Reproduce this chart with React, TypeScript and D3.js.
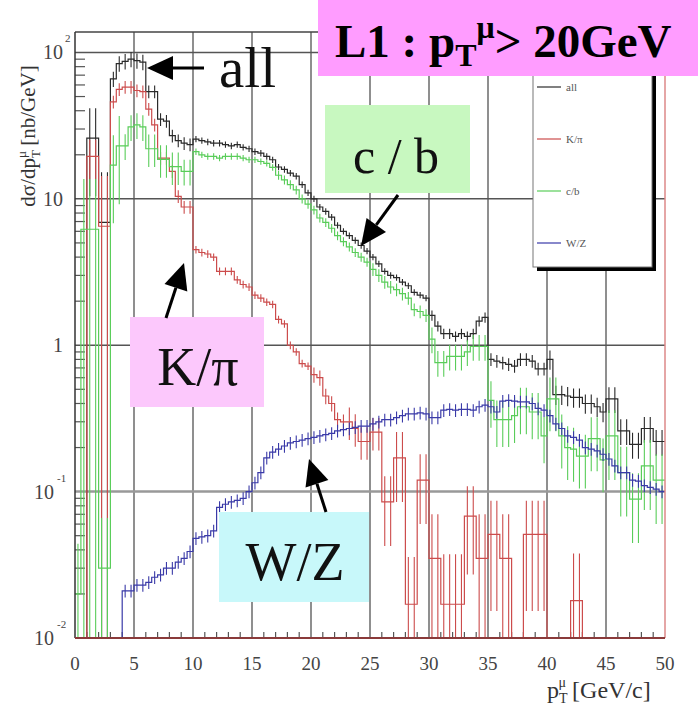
import React from "react";
import * as d3 from "d3";

// muon pT spectra, 0.5 GeV/c bins from 0 to 50 GeV/c
const BIN_WIDTH = 0.5;

const allValues = [
  0, 0, 26, 26, 6.9, 6.9, 66, 84, 87, 90,
  88, 86, 54, 54, 35, 34, 27, 25, 24, 23.5,
  25.6, 25, 24.5, 24, 24, 23.5, 23, 23.5, 22.5, 22,
  21, 20.5, 19.5, 18.5, 16.5, 15.9, 15, 14.3, 12.5, 11,
  10, 8.8, 8.2, 7.5, 6.6, 6.0, 5.6, 5.2, 4.8, 4.4,
  4.0, 3.6, 3.2, 3.0, 2.9, 2.7, 2.55, 2.3, 2.2, 2.1,
  1.6, 1.35, 1.2, 1.2, 1.15, 1.2, 1.15, 1.2, 1.46, 1.55,
  0.8, 0.78, 0.76, 0.74, 0.72, 0.8, 0.8, 0.78, 0.69, 0.69,
  0.8, 0.46, 0.46, 0.45, 0.44, 0.44, 0.4, 0.4, 0.38, 0.35,
  0.43, 0.43, 0.26, 0.26, 0.21, 0.21, 0.27, 0.27, 0.22, 0.22,
];

const kpiValues = [
  0, 0, 19.5, 19.5, 6.5, 6.5, 46, 56, 58, 58,
  55, 54, 41, 32, 19, 19, 15.4, 10.4, 8.8, 8.8,
  4.5, 4.3, 4.2, 4.0, 3.2, 3.2, 3.2, 2.8, 2.6, 2.5,
  2.2, 2.1, 1.97, 1.9, 1.5, 1.4, 1.0, 0.9, 0.75, 0.72,
  0.63, 0.6, 0.45, 0.4, 0.31, 0.3, 0.3, 0.27, 0.22, 0.22,
  0.255, 0.255, 0.085, 0.085, 0.17, 0.17, 0.017, 0.017, 0.12, 0.12,
  0.035, 0.035, 0.017, 0.017, 0.017, 0.017, 0.068, 0.068, 0.035, 0.035,
  0.051, 0.051, 0.035, 0.035, 0, 0, 0.051, 0.051, 0.051, 0.051,
  0, 0, 0, 0, 0.018, 0.018, 0, 0, 0, 0,
  0, 0, 0, 0, 0, 0, 0, 0, 0, 0,
];

const cbValues = [
  0.02, 6.2, 6.2, 6.2, 0.03, 0.03, 17, 23, 23, 31,
  32, 31, 22, 22, 18.6, 18.6, 16.6, 16.6, 15.4, 15.4,
  21, 20, 19.5, 19.5, 19, 19.5, 19.5, 19.5, 19, 18.5,
  18.5, 18, 17.5, 16.4, 14.5, 13.5, 12.5, 11.5, 10, 9.2,
  8.4, 7.4, 6.9, 6.3, 5.6, 5.1, 4.7, 4.3, 4.0, 3.7,
  3.3, 3.0, 2.7, 2.5, 2.4, 2.25, 2.1, 1.75, 1.7, 1.6,
  1.1, 0.76, 0.76, 0.84, 0.84, 0.84, 0.9, 0.98, 0.98, 0.98,
  0.42, 0.31, 0.31, 0.31, 0.33, 0.38, 0.38, 0.35, 0.35, 0.24,
  0.43, 0.43, 0.24, 0.2, 0.195, 0.175, 0.175, 0.23, 0.23, 0.165,
  0.24, 0.24, 0.135, 0.135, 0.089, 0.089, 0.15, 0.15, 0.12, 0.12,
];

const wzValues = [
  0, 0, 0, 0, 0, 0, 0, 0, 0.021, 0.021,
  0.023, 0.023, 0.024, 0.026, 0.027, 0.03, 0.03, 0.033, 0.035, 0.039,
  0.048, 0.049, 0.05, 0.054, 0.078, 0.082, 0.085, 0.087, 0.09, 0.1,
  0.115, 0.135, 0.17, 0.186, 0.195, 0.205, 0.215, 0.22, 0.225, 0.23,
  0.235, 0.24, 0.245, 0.25, 0.26, 0.265, 0.27, 0.275, 0.28, 0.28,
  0.29, 0.3, 0.31, 0.31, 0.32, 0.33, 0.34, 0.34, 0.345, 0.34,
  0.32, 0.32, 0.36, 0.365, 0.36, 0.365, 0.365, 0.36, 0.38, 0.39,
  0.38, 0.35, 0.415, 0.42, 0.415, 0.41, 0.41, 0.4, 0.37, 0.36,
  0.33, 0.29, 0.27, 0.24, 0.235, 0.225, 0.2, 0.195, 0.19, 0.18,
  0.167, 0.15, 0.135, 0.135, 0.12, 0.118, 0.11, 0.107, 0.104, 0.1,
];

// relative error bar size, [first bin, fraction]
const allErr: [number, number][] = [[0, 0.1], [2, 0.6], [4, 1.2], [6, 0.12], [12, 0.1], [20, 0.05], [60, 0.08], [70, 0.1], [80, 0.15], [90, 0.2]];
const kpiErr: [number, number][] = [[0, 0.1], [2, 0.3], [4, 1.2], [6, 0.1], [20, 0.06], [40, 0.12], [46, 0.25], [52, 0.5], [56, 1.1], [58, 0.5], [60, 1.0], [62, 1.2], [66, 0.6], [68, 1.0], [70, 0.7], [72, 1.0], [76, 0.7], [84, 1.1]];
const cbErr: [number, number][] = [[0, 1.2], [6, 0.6], [8, 0.2], [12, 0.25], [18, 0.2], [20, 0.05], [34, 0.07], [50, 0.1], [60, 0.2], [70, 0.35], [80, 0.4], [90, 0.5]];
const wzErr: [number, number][] = [[0, 0.1]];

const xTicks = [0, 5, 10, 15, 20, 25, 30, 35, 40, 45, 50];
const yDecades = [0.01, 0.1, 1, 10, 100];
const yTickLabels = [
  { v: 100, base: "10", exp: "2" },
  { v: 10, base: "10", exp: "" },
  { v: 1, base: "1", exp: "" },
  { v: 0.1, base: "10", exp: "-1" },
  { v: 0.01, base: "10", exp: "-2" },
];
const legendLabels = ["all", "K/\u03c0", "c/b", "W/Z"];

const W = 698;
const H = 710;
const serif = "Liberation Serif";

const series = [
  { name: "all", values: allValues, err: allErr, color: "#2a2a2a" },
  { name: "kpi", values: kpiValues, err: kpiErr, color: "#cc4c4c" },
  { name: "cb", values: cbValues, err: cbErr, color: "#5acd5a" },
  { name: "wz", values: wzValues, err: wzErr, color: "#3a3aa8" },
];

const x = d3.scaleLinear().domain([0, 50]).range([75, 665]);
const y = d3.scaleLog().domain([0.01, 138]).range([638, 32]);
const yBottom = 638;
const yTop = 32;
const yv = (v: number) => (v <= 0.01 ? yBottom : Math.max(yTop, y(v)));

function histPath(vals: number[]) {
  const pts: [number, number][] = [];
  vals.forEach((v, i) => {
    pts.push([i * BIN_WIDTH, v]);
    pts.push([(i + 1) * BIN_WIDTH, v]);
  });
  return d3
    .line<[number, number]>()
    .x((d) => x(d[0]))
    .y((d) => yv(d[1]))(pts)!;
}

function relErr(segs: [number, number][], i: number) {
  let r = segs[0][1];
  for (const s of segs) if (s[0] <= i) r = s[1];
  return r;
}

function Arrow({ x1, y1, x2, y2 }: { x1: number; y1: number; x2: number; y2: number }) {
  const ang = Math.atan2(y2 - y1, x2 - x1);
  const len = 26;
  const hw = 12;
  const bx = x2 - len * Math.cos(ang);
  const by = y2 - len * Math.sin(ang);
  const px = -Math.sin(ang) * hw;
  const py = Math.cos(ang) * hw;
  return (
    <g>
      <line x1={x1} y1={y1} x2={bx} y2={by} stroke="#000" strokeWidth={3} />
      <polygon points={`${x2},${y2} ${bx + px},${by + py} ${bx - px},${by - py}`} fill="#000" />
    </g>
  );
}

export default function App() {
  const minorY: number[] = [];
  yDecades.forEach((d) => {
    for (let k = 2; k <= 9; k++) if (d * k < 138) minorY.push(d * k);
  });
  const minorX = d3.range(1, 50).filter((v) => v % 5 !== 0);

  return (
    <svg width={W} height={H} style={{ position: "absolute", left: 0, top: 0, background: "#fff", fontFamily: serif }}>
      <rect x={0} y={0} width={W} height={H} fill="#fff" />

      {/* grid */}
      {xTicks.slice(1, -1).map((t) => (
        <line key={"gx" + t} x1={x(t)} x2={x(t)} y1={yTop} y2={yBottom} stroke="#6a6a6a" strokeWidth={1.5} />
      ))}
      {yDecades.slice(1).map((t) => (
        <line key={"gy" + t} x1={x(0)} x2={x(50)} y1={y(t)} y2={y(t)} stroke={t === 0.1 ? "#999" : "#555"} strokeWidth={t === 0.1 ? 2.5 : 1.5} />
      ))}

      {/* ticks */}
      {minorY.map((v) => (
        <line key={"my" + v} x1={x(0)} x2={x(0) + 10} y1={y(v)} y2={y(v)} stroke="#555" strokeWidth={1.2} />
      ))}
      {minorX.map((v) => (
        <line key={"mx" + v} x1={x(v)} x2={x(v)} y1={yBottom} y2={yBottom - 6} stroke="#555" strokeWidth={1.2} />
      ))}

      {/* histograms */}
      {series.map((s) => (
        <g key={s.name}>
          <path d={histPath(s.values)} fill="none" stroke={s.color} strokeWidth={1.2} />
          {s.values.map((v, i) => {
            if (v <= 0) return null;
            const r = relErr(s.err, i);
            const cx = x((i + 0.5) * BIN_WIDTH);
            return (
              <line key={i} x1={cx} x2={cx} y1={yv(v * (1 + r))} y2={yv(v * (1 - r))} stroke={s.color} strokeWidth={1.1} />
            );
          })}
        </g>
      ))}

      {/* frame */}
      <line x1={x(0)} x2={x(50)} y1={yTop} y2={yTop} stroke="#444" strokeWidth={1.5} />
      <line x1={x(0)} x2={x(0)} y1={yTop} y2={yBottom} stroke="#333" strokeWidth={1.5} />
      <line x1={x(50)} x2={x(50)} y1={yTop} y2={yBottom} stroke="#d88" strokeWidth={1.5} />
      <line x1={x(0)} x2={x(50)} y1={yBottom} y2={yBottom} stroke="#8a3a3a" strokeWidth={2} />

      {/* axis labels */}
      {xTicks.map((t) => (
        <text key={"xt" + t} x={x(t)} y={670} textAnchor="middle" fontFamily={serif} fontSize={19} fill="#444">
          {t}
        </text>
      ))}
      {yTickLabels.map((l) => (
        <g key={"yt" + l.v}>
          <text x={l.exp.length > 1 ? 54 : 63} y={y(l.v) + 7} textAnchor="end" fontFamily={serif} fontSize={20} fill="#444">
            {l.base}
          </text>
          {l.exp && (
            <text x={l.exp.length > 1 ? 57 : 65} y={y(l.v) - 10} fontFamily={serif} fontSize={11} fill="#444">
              {l.exp}
            </text>
          )}
        </g>
      ))}
      <text transform="translate(35,136) rotate(-90)" textAnchor="middle" fontFamily={serif} fontSize={21} fill="#333">
        d{"\u03c3"}/dp
        <tspan fontSize={13} dy={5}>T</tspan>
        <tspan fontSize={13} dx={-8} dy={-14}>{"\u03bc"}</tspan>
        <tspan dy={9}> [nb/GeV]</tspan>
      </text>
      <text x={547} y={698} fontFamily={serif} fontSize={24} fill="#333">
        p
        <tspan fontSize={14} dy={5}>T</tspan>
        <tspan fontSize={14} dx={-9} dy={-16}>{"\u03bc"}</tspan>
        <tspan dy={11}> [GeV/c]</tspan>
      </text>

      {/* legend */}
      <rect x={652} y={54} width={4} height={217} fill="#000" />
      <rect x={537} y={267} width={119} height={4} fill="#000" />
      <rect x={533} y={50} width={119} height={217} fill="#fff" stroke="#777" strokeWidth={1} />
      {legendLabels.map((l, i) => {
        const ly = 87 + i * 52;
        return (
          <g key={l}>
            <line x1={537} x2={561} y1={ly} y2={ly} stroke={series[i].color} strokeWidth={1.2} />
            <text x={566} y={ly + 4} fontFamily={serif} fontSize={11} fill="#555">
              {l}
            </text>
          </g>
        );
      })}

      {/* title */}
      <rect x={318} y={0} width={380} height={76} fill="#ff9cff" />
      <text x={335} y={57} fontFamily={serif} fontWeight="bold" fontSize={47} fill="#000">
        L1 : p
        <tspan fontSize={32} dy={9}>T</tspan>
        <tspan fontSize={32} dy={-28}>{"\u03bc"}</tspan>
        <tspan dy={19}>&gt; 20GeV</tspan>
      </text>

      {/* annotations */}
      <text x={219} y={87} fontFamily={serif} fontSize={57} fill="#111">all</text>
      <Arrow x1={204} y1={68} x2={147} y2={68} />

      <rect x={325} y={105} width={145} height={88} fill="#c8f8c0" />
      <text x={396} y={173} textAnchor="middle" fontFamily={serif} fontSize={50} fill="#111">c / b</text>
      <Arrow x1={398} y1={195} x2={361} y2={246} />

      <rect x={130} y={317} width={134} height={90} fill="#fcc8fc" />
      <text x={198} y={385} textAnchor="middle" fontFamily={serif} fontSize={54} fill="#111">K/{"\u03c0"}</text>
      <Arrow x1={166} y1={318} x2={184} y2={263} />

      <rect x={219} y={512} width={150} height={90} fill="#c8f8fa" />
      <text x={295} y={580} textAnchor="middle" fontFamily={serif} fontSize={54} fill="#111">W/Z</text>
      <Arrow x1={326} y1={512} x2={309} y2={459} />
    </svg>
  );
}
